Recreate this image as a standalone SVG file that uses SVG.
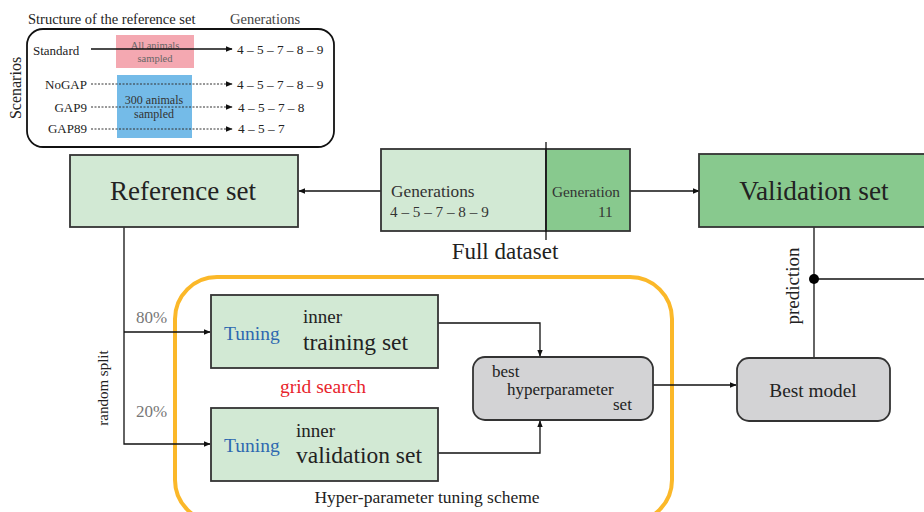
<svg xmlns="http://www.w3.org/2000/svg" width="924" height="512" viewBox="0 0 924 512" fill="#222">
<style>
text{font-family:"Liberation Serif","Times New Roman",serif}
.ln{stroke:#111;stroke-width:1.3;fill:none}
.dot{stroke:#333;stroke-width:1;stroke-dasharray:2 1.5;fill:none}
.box{stroke:#333;stroke-width:1.8}
.lg{fill:#d2e9d4}
.dg{fill:#88c98e}
.gr{fill:#d3d3d5}
.blue{fill:#2e68b0}
.grey{fill:#777}
.red{fill:#e8242c}
</style>
<defs>
<marker id="ah" viewBox="0 0 10 10" refX="9" refY="5" markerWidth="7" markerHeight="7" orient="auto" markerUnits="userSpaceOnUse">
<path d="M0,1 L10,5 L0,9 z" fill="#111"/>
</marker>
</defs>
<rect width="924" height="512" fill="#fff"/>

<g id="scenarios">
<text x="28" y="24" font-size="14.5">Structure of the reference set</text>
<text x="230" y="24" font-size="14.5" fill="#444">Generations</text>
<rect x="27" y="29" width="307" height="118" rx="16" fill="#fff" stroke="#111" stroke-width="1.8"/>
<text transform="translate(21,88) rotate(-90)" text-anchor="middle" font-size="16">Scenarios</text>
<rect x="116" y="35" width="78" height="33" fill="#f4a8b1"/>
<rect x="117" y="75" width="75" height="63" fill="#74bbe8"/>
<text x="155" y="49" text-anchor="middle" font-size="10.5" fill="#666">All animals</text>
<text x="155" y="62" text-anchor="middle" font-size="10.5" fill="#666">sampled</text>
<text x="154" y="104" text-anchor="middle" font-size="12" fill="#333">300 animals</text>
<text x="154" y="118" text-anchor="middle" font-size="12" fill="#333">sampled</text>
<text x="33" y="55" font-size="13">Standard</text>
<text x="87" y="89" font-size="13" text-anchor="end">NoGAP</text>
<text x="87" y="112" font-size="13" text-anchor="end">GAP9</text>
<text x="87" y="133" font-size="13" text-anchor="end">GAP89</text>
<line class="ln" x1="91" y1="49" x2="232" y2="49" stroke-width="1" marker-end="url(#ah)"/>
<line class="dot" x1="91" y1="84" x2="232" y2="84" marker-end="url(#ah)"/>
<line class="dot" x1="91" y1="107" x2="232" y2="107" marker-end="url(#ah)"/>
<line class="dot" x1="91" y1="129" x2="232" y2="129" marker-end="url(#ah)"/>
<text x="237" y="54" font-size="13.3">4 – 5 – 7 – 8 – 9</text>
<text x="237" y="89" font-size="13.3">4 – 5 – 7 – 8 – 9</text>
<text x="238" y="112" font-size="13.3">4 – 5 – 7 – 8</text>
<text x="238" y="133" font-size="13.3">4 – 5 – 7</text>
</g>

<g id="tuning-scheme">
<rect x="175" y="277" width="497" height="245" rx="42" fill="none" stroke="#fbb829" stroke-width="4"/>
<text x="427" y="503" text-anchor="middle" font-size="17.5">Hyper-parameter tuning scheme</text>
<text x="323" y="393" text-anchor="middle" font-size="19.5" class="red">grid search</text>
</g>

<g id="connectors">
<line class="ln" x1="381" y1="191" x2="299" y2="191" marker-end="url(#ah)"/>
<line class="ln" x1="630" y1="191" x2="699" y2="191" marker-end="url(#ah)"/>
<polyline class="ln" points="124,227 124,444 210,444" marker-end="url(#ah)"/>
<line class="ln" x1="124" y1="332" x2="210" y2="332" marker-end="url(#ah)"/>
<polyline class="ln" points="438,323 540,323 540,356" marker-end="url(#ah)"/>
<polyline class="ln" points="438,453 540,453 540,421" marker-end="url(#ah)"/>
<line class="ln" x1="653" y1="385" x2="736" y2="385" marker-end="url(#ah)"/>
<line class="ln" x1="814" y1="227" x2="814" y2="358"/>
<line class="ln" x1="814" y1="279" x2="924" y2="279"/>
<circle cx="814" cy="279" r="5" fill="#000"/>
<text x="136" y="323" font-size="17" class="grey">80%</text>
<text x="136" y="417" font-size="17" class="grey">20%</text>
<text transform="translate(108,388) rotate(-90)" text-anchor="middle" font-size="15">random split</text>
<text transform="translate(799,286) rotate(-90)" text-anchor="middle" font-size="19">prediction</text>
</g>

<g id="full-dataset">
<rect class="box lg" x="381" y="149" width="165" height="82"/>
<rect class="box dg" x="546" y="149" width="84" height="82"/>
<line class="ln" x1="546" y1="142" x2="546" y2="240"/>
<text x="391" y="197" font-size="17.3" fill="#333">Generations</text>
<text x="390" y="217" font-size="15.2" fill="#333">4 – 5 – 7 – 8 – 9</text>
<text x="552" y="197" font-size="15.3" fill="#333">Generation</text>
<text x="598" y="217" font-size="15.3" fill="#333">11</text>
<text x="505" y="259" text-anchor="middle" font-size="23">Full dataset</text>
</g>

<g id="reference-set">
<rect class="box lg" x="70" y="155" width="228" height="72"/>
<text x="183" y="200" text-anchor="middle" font-size="27">Reference set</text>
</g>

<g id="validation-set">
<rect class="box dg" x="699" y="154" width="240" height="73"/>
<text x="814" y="200" text-anchor="middle" font-size="27.3">Validation set</text>
</g>

<g id="inner-training">
<rect class="box lg" x="211" y="295" width="227" height="73"/>
<text x="224" y="340" font-size="19.5" class="blue">Tuning</text>
<text x="303" y="323" font-size="19">inner</text>
<text x="303" y="350" font-size="23.5">training set</text>
</g>

<g id="inner-validation">
<rect class="box lg" x="211" y="408" width="227" height="73"/>
<text x="224" y="452" font-size="19.5" class="blue">Tuning</text>
<text x="296" y="437" font-size="19">inner</text>
<text x="296" y="463" font-size="23.5">validation set</text>
</g>

<g id="best-hyperparameter">
<rect class="box gr" x="473" y="357" width="180" height="63" rx="12"/>
<text x="492" y="377" font-size="17">best</text>
<text x="507" y="395" font-size="17">hyperparameter</text>
<text x="613" y="410" font-size="17">set</text>
</g>

<g id="best-model">
<rect class="box gr" x="737" y="358" width="153" height="63" rx="12"/>
<text x="813" y="397" text-anchor="middle" font-size="19.3">Best model</text>
</g>
</svg>
